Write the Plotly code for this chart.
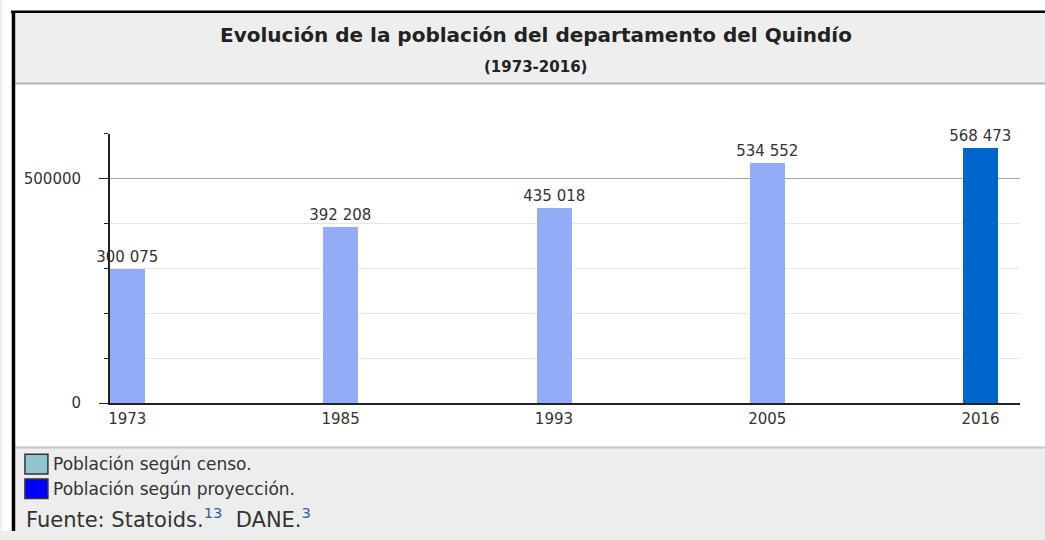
import plotly.graph_objects as go

# ---- data ----
years = ["1973", "1985", "1993", "2005", "2016"]
population = [300075, 392208, 435018, 534552, 568473]
kind = ["censo", "censo", "censo", "censo", "proyeccion"]
y_tick_vals = [0, 500000]
y_tick_text = ["0", "500000"]

title = "Evolución de la población del departamento del Quindío"
subtitle = "(1973-2016)"
legend_items = ["Población según censo.", "Población según proyección."]

# ---- styles ----
W, H = 1045, 540
col_map = {"censo": "#93acf7", "proyeccion": "#0066cc"}
bar_colors = [col_map[k] for k in kind]
labels = [f"{v:,}".replace(",", " ") for v in population]
FONT = "DejaVu Sans, Arial, sans-serif"
TXT = "#333333"


def px(x):
    return x / W


def py(y):
    return 1 - y / H


fig = go.Figure()
fig.add_trace(go.Bar(
    x=years, y=population,
    marker=dict(color=bar_colors, line=dict(width=0)),
    width=0.164,
    text=labels, textposition="outside", cliponaxis=False, constraintext="none",
    textfont=dict(family=FONT, size=15, color=TXT),
    showlegend=False, hoverinfo="x+y",
))

shapes = []
# white page area
shapes.append(dict(type="rect", xref="paper", yref="paper", x0=0, x1=1, y0=0, y1=1,
                   fillcolor="#ffffff", line=dict(width=0), layer="below"))
# header background
shapes.append(dict(type="rect", xref="paper", yref="paper", x0=px(12), x1=1, y0=py(85), y1=py(12),
                   fillcolor="#eeeeee", line=dict(width=0), layer="below"))
shapes.append(dict(type="line", xref="paper", yref="paper", x0=px(12), x1=1, y0=py(85), y1=py(85),
                   line=dict(color="#b4b4b4", width=2), layer="below"))
# footer background
shapes.append(dict(type="rect", xref="paper", yref="paper", x0=px(12), x1=1, y0=0, y1=py(455),
                   fillcolor="#ededed", line=dict(width=0), layer="below"))
shapes.append(dict(type="line", xref="paper", yref="paper", x0=px(12), x1=1, y0=py(455), y1=py(455),
                   line=dict(color="#c4c4c4", width=2), layer="below"))
# outer black frame (top + left)
shapes.append(dict(type="line", xref="paper", yref="paper", x0=px(9), x1=1, y0=py(12), y1=py(12),
                   line=dict(color="#000000", width=2.5), layer="above"))
shapes.append(dict(type="line", xref="paper", yref="paper", x0=px(11.5), x1=px(11.5), y0=0, y1=py(12),
                   line=dict(color="#000000", width=3.5), layer="above"))
# legend swatches
sw_colors = ["#92c5cf", "#0000ff"]
sw_y = [(462, 482), (487, 507)]
for c, (a, b) in zip(sw_colors, sw_y):
    shapes.append(dict(type="rect", xref="paper", yref="paper", x0=px(23), x1=px(46), y0=py(b), y1=py(a),
                       fillcolor=c, line=dict(color="#333333", width=1.5), layer="above"))

annotations = [
    dict(text=f"<b>{title}</b>", x=px(535), y=py(36), xref="paper", yref="paper", showarrow=False,
         font=dict(family=FONT, size=20, color="#222222"), xanchor="center", yanchor="middle"),
    dict(text=f"<b>{subtitle}</b>", x=px(535), y=py(68), xref="paper", yref="paper", showarrow=False,
         font=dict(family=FONT, size=15, color="#222222"), xanchor="center", yanchor="middle"),
]
for t, (a, b) in zip(legend_items, sw_y):
    annotations.append(dict(text=t, x=px(49), y=py((a + b) / 2), xref="paper", yref="paper",
                            showarrow=False, xanchor="left", yanchor="middle",
                            font=dict(family=FONT, size=17, color=TXT)))
annotations.append(dict(
    text="Fuente: Statoids.<sup><span style='color:#2a5db0'>13</span></sup>  DANE.<sup><span style='color:#2a5db0'>3</span></sup>",
    x=px(22), y=py(527), xref="paper", yref="paper", showarrow=False, xanchor="left", yanchor="middle",
    font=dict(family=FONT, size=21, color=TXT)))

fig.update_layout(
    width=W, height=H, autosize=False,
    margin=dict(l=0, r=0, t=0, b=0),
    paper_bgcolor="#ededed", plot_bgcolor="rgba(0,0,0,0)",
    shapes=shapes, annotations=annotations,
    xaxis=dict(domain=[px(108), px(1020)], range=[-0.082, 4.185], type="category",
               showline=True, linecolor="#222222", linewidth=1.5, ticks="", showgrid=False,
               tickfont=dict(family=FONT, size=15, color=TXT), ticklabelstandoff=1),
    yaxis=dict(domain=[py(410), py(136)], range=[0, 600000],
               tickvals=y_tick_vals, ticktext=y_tick_text,
               showline=True, linecolor="#222222", linewidth=1.5,
               ticks="outside", ticklen=9, tickcolor="#222222",
               showgrid=True, gridcolor="#a8a8a8", gridwidth=1, zeroline=False,
               minor=dict(dtick=100000, ticks="outside", ticklen=4, tickcolor="#222222",
                          showgrid=True, gridcolor="#e6e6e6"),
               ticklabelstandoff=15,
               tickfont=dict(family=FONT, size=15, color=TXT)),
    bargap=0,
)

fig.write_html(
    "out.html",
    config={"displayModeBar": False},
    post_script=("document.documentElement.style.overflow='hidden';"
                 "document.body.style.margin='0';document.body.style.overflow='hidden';"
                 "document.body.style.background='#ededed';"),
)
